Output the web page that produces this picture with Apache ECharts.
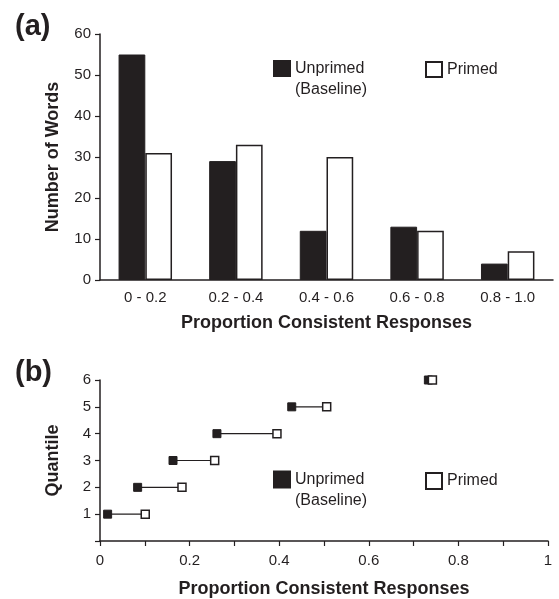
<!DOCTYPE html>
<html>
<head>
<meta charset="utf-8">
<script src="https://cdn.jsdelivr.net/npm/echarts@6/dist/echarts.min.js"></script>
<style>
  html, body { margin: 0; padding: 0; background: #fff; }
  #chart { width: 559px; height: 599px; }
</style>
</head>
<body>
<div id="chart"></div>
<script>
// panel (a): histogram of words by proportion consistent responses
var bins = ['0 - 0.2', '0.2 - 0.4', '0.4 - 0.6', '0.6 - 0.8', '0.8 - 1.0'];
var unprimedCounts = [55, 29, 12, 13, 4];
var primedCounts = [31, 33, 30, 12, 7];

// panel (b): quantiles
var quantiles = [1, 2, 3, 4, 5, 6];
var unprimedQ = [0.017, 0.084, 0.163, 0.261, 0.428, 0.733];
var primedQ = [0.101, 0.183, 0.256, 0.395, 0.506, 0.742];

var ink = '#231f20';
var font = 'Liberation Sans, Arial, Helvetica, sans-serif';

var myChart = echarts.init(document.getElementById('chart'));

// horizontal segments joining each unprimed/primed pair
var segs = quantiles.map(function (q, i) {
  return {
    type: 'line',
    xAxisIndex: 1, yAxisIndex: 1,
    data: [[unprimedQ[i], q], [primedQ[i], q]],
    symbol: 'none',
    lineStyle: { color: ink, width: 1.2 },
    silent: true,
    z: 1
  };
});

var legendText = { color: ink, fontSize: 16, fontFamily: font };
// blank first line so "Unprimed" lands in the middle, beside the icon
var baseText = { color: ink, fontSize: 16, fontFamily: font, lineHeight: 21 };
var baseFormatter = function () { return ' \nUnprimed\n(Baseline)'; };

myChart.setOption({
  animation: false,
  textStyle: { fontFamily: font },
  graphic: [
    { type: 'text', style: { x: 15, y: 27, text: '(a)', verticalAlign: 'middle', font: 'bold 29px ' + font, fill: ink } },
    { type: 'text', style: { x: 15, y: 373, text: '(b)', verticalAlign: 'middle', font: 'bold 29px ' + font, fill: ink } }
  ],
  legend: [
    { left: 273, top: 37, padding: 0, itemWidth: 16, itemHeight: 15, icon: 'rect',
      data: ['Unprimed'], formatter: baseFormatter, textStyle: baseText },
    { left: 425, top: 61, padding: 0, itemWidth: 16, itemHeight: 15, icon: 'rect',
      data: ['Primed'], textStyle: legendText },
    { left: 273, top: 448, padding: 0, itemWidth: 16, itemHeight: 16, icon: 'rect',
      data: ['Unprimed'], formatter: baseFormatter, textStyle: baseText },
    { left: 425, top: 472, padding: 0, itemWidth: 16, itemHeight: 16, icon: 'rect',
      data: ['Primed'], textStyle: legendText }
  ],
  grid: [
    { left: 100, right: 6, top: 34, bottom: 319 },
    { left: 100, right: 11, top: 380, bottom: 58 }
  ],
  xAxis: [
    {
      type: 'category', gridIndex: 0, data: bins,
      axisLine: { lineStyle: { color: ink, width: 1.5 } },
      axisTick: { length: 5, lineStyle: { color: ink, width: 1.2 } },
      axisLabel: { color: ink, fontSize: 15, margin: 10 },
      name: 'Proportion Consistent Responses', nameLocation: 'middle', nameGap: 34,
      nameTextStyle: { color: ink, fontSize: 18, fontWeight: 'bold' }
    },
    {
      type: 'value', gridIndex: 1, min: 0, max: 1, interval: 0.1,
      splitLine: { show: false },
      axisLine: { lineStyle: { color: ink, width: 1.5 } },
      axisTick: { length: 5, lineStyle: { color: ink, width: 1.2 } },
      axisLabel: {
        color: ink, fontSize: 15, margin: 12,
        formatter: function (v) {
          var t = Math.round(v * 10);
          return t % 2 === 0 ? String(t / 10) : '';
        }
      },
      name: 'Proportion Consistent Responses', nameLocation: 'middle', nameGap: 39,
      nameTextStyle: { color: ink, fontSize: 18, fontWeight: 'bold' }
    }
  ],
  yAxis: [
    {
      type: 'value', gridIndex: 0, min: 0, max: 60, interval: 10,
      splitLine: { show: false },
      axisLine: { show: true, lineStyle: { color: ink, width: 1.5 } },
      axisTick: { show: true, length: 5, lineStyle: { color: ink, width: 1.2 } },
      axisLabel: { color: ink, fontSize: 15, margin: 9 },
      name: 'Number of Words', nameLocation: 'middle', nameGap: 38,
      nameTextStyle: { color: ink, fontSize: 18, fontWeight: 'bold' }
    },
    {
      type: 'value', gridIndex: 1, min: 0, max: 6, interval: 1,
      splitLine: { show: false },
      axisLine: { show: true, lineStyle: { color: ink, width: 1.5 } },
      axisTick: { show: true, length: 5, lineStyle: { color: ink, width: 1.2 } },
      axisLabel: {
        color: ink, fontSize: 15, margin: 9,
        formatter: function (v) { return v === 0 ? '' : String(v); }
      },
      name: 'Quantile', nameLocation: 'middle', nameGap: 38,
      nameTextStyle: { color: ink, fontSize: 18, fontWeight: 'bold' }
    }
  ],
  series: [
    {
      name: 'Unprimed', type: 'bar', xAxisIndex: 0, yAxisIndex: 0,
      data: unprimedCounts, barGap: '0%', barCategoryGap: '41%',
      itemStyle: { color: ink, borderColor: ink, borderWidth: 1 }
    },
    {
      name: 'Primed', type: 'bar', xAxisIndex: 0, yAxisIndex: 0,
      data: primedCounts, barGap: '0%', barCategoryGap: '41%',
      itemStyle: { color: '#fff', borderColor: ink, borderWidth: 1.5 }
    }
  ].concat(segs).concat([
    {
      name: 'Unprimed', type: 'scatter', xAxisIndex: 1, yAxisIndex: 1,
      data: unprimedQ.map(function (x, i) { return [x, quantiles[i]]; }),
      symbol: 'rect', symbolSize: 8,
      itemStyle: { color: ink, borderColor: ink, borderWidth: 1, opacity: 1 },
      z: 3
    },
    {
      name: 'Primed', type: 'scatter', xAxisIndex: 1, yAxisIndex: 1,
      data: primedQ.map(function (x, i) { return [x, quantiles[i]]; }),
      symbol: 'rect', symbolSize: 8,
      itemStyle: { color: '#fff', borderColor: ink, borderWidth: 1.5, opacity: 1 },
      z: 4
    }
  ])
});
</script>
</body>
</html>
